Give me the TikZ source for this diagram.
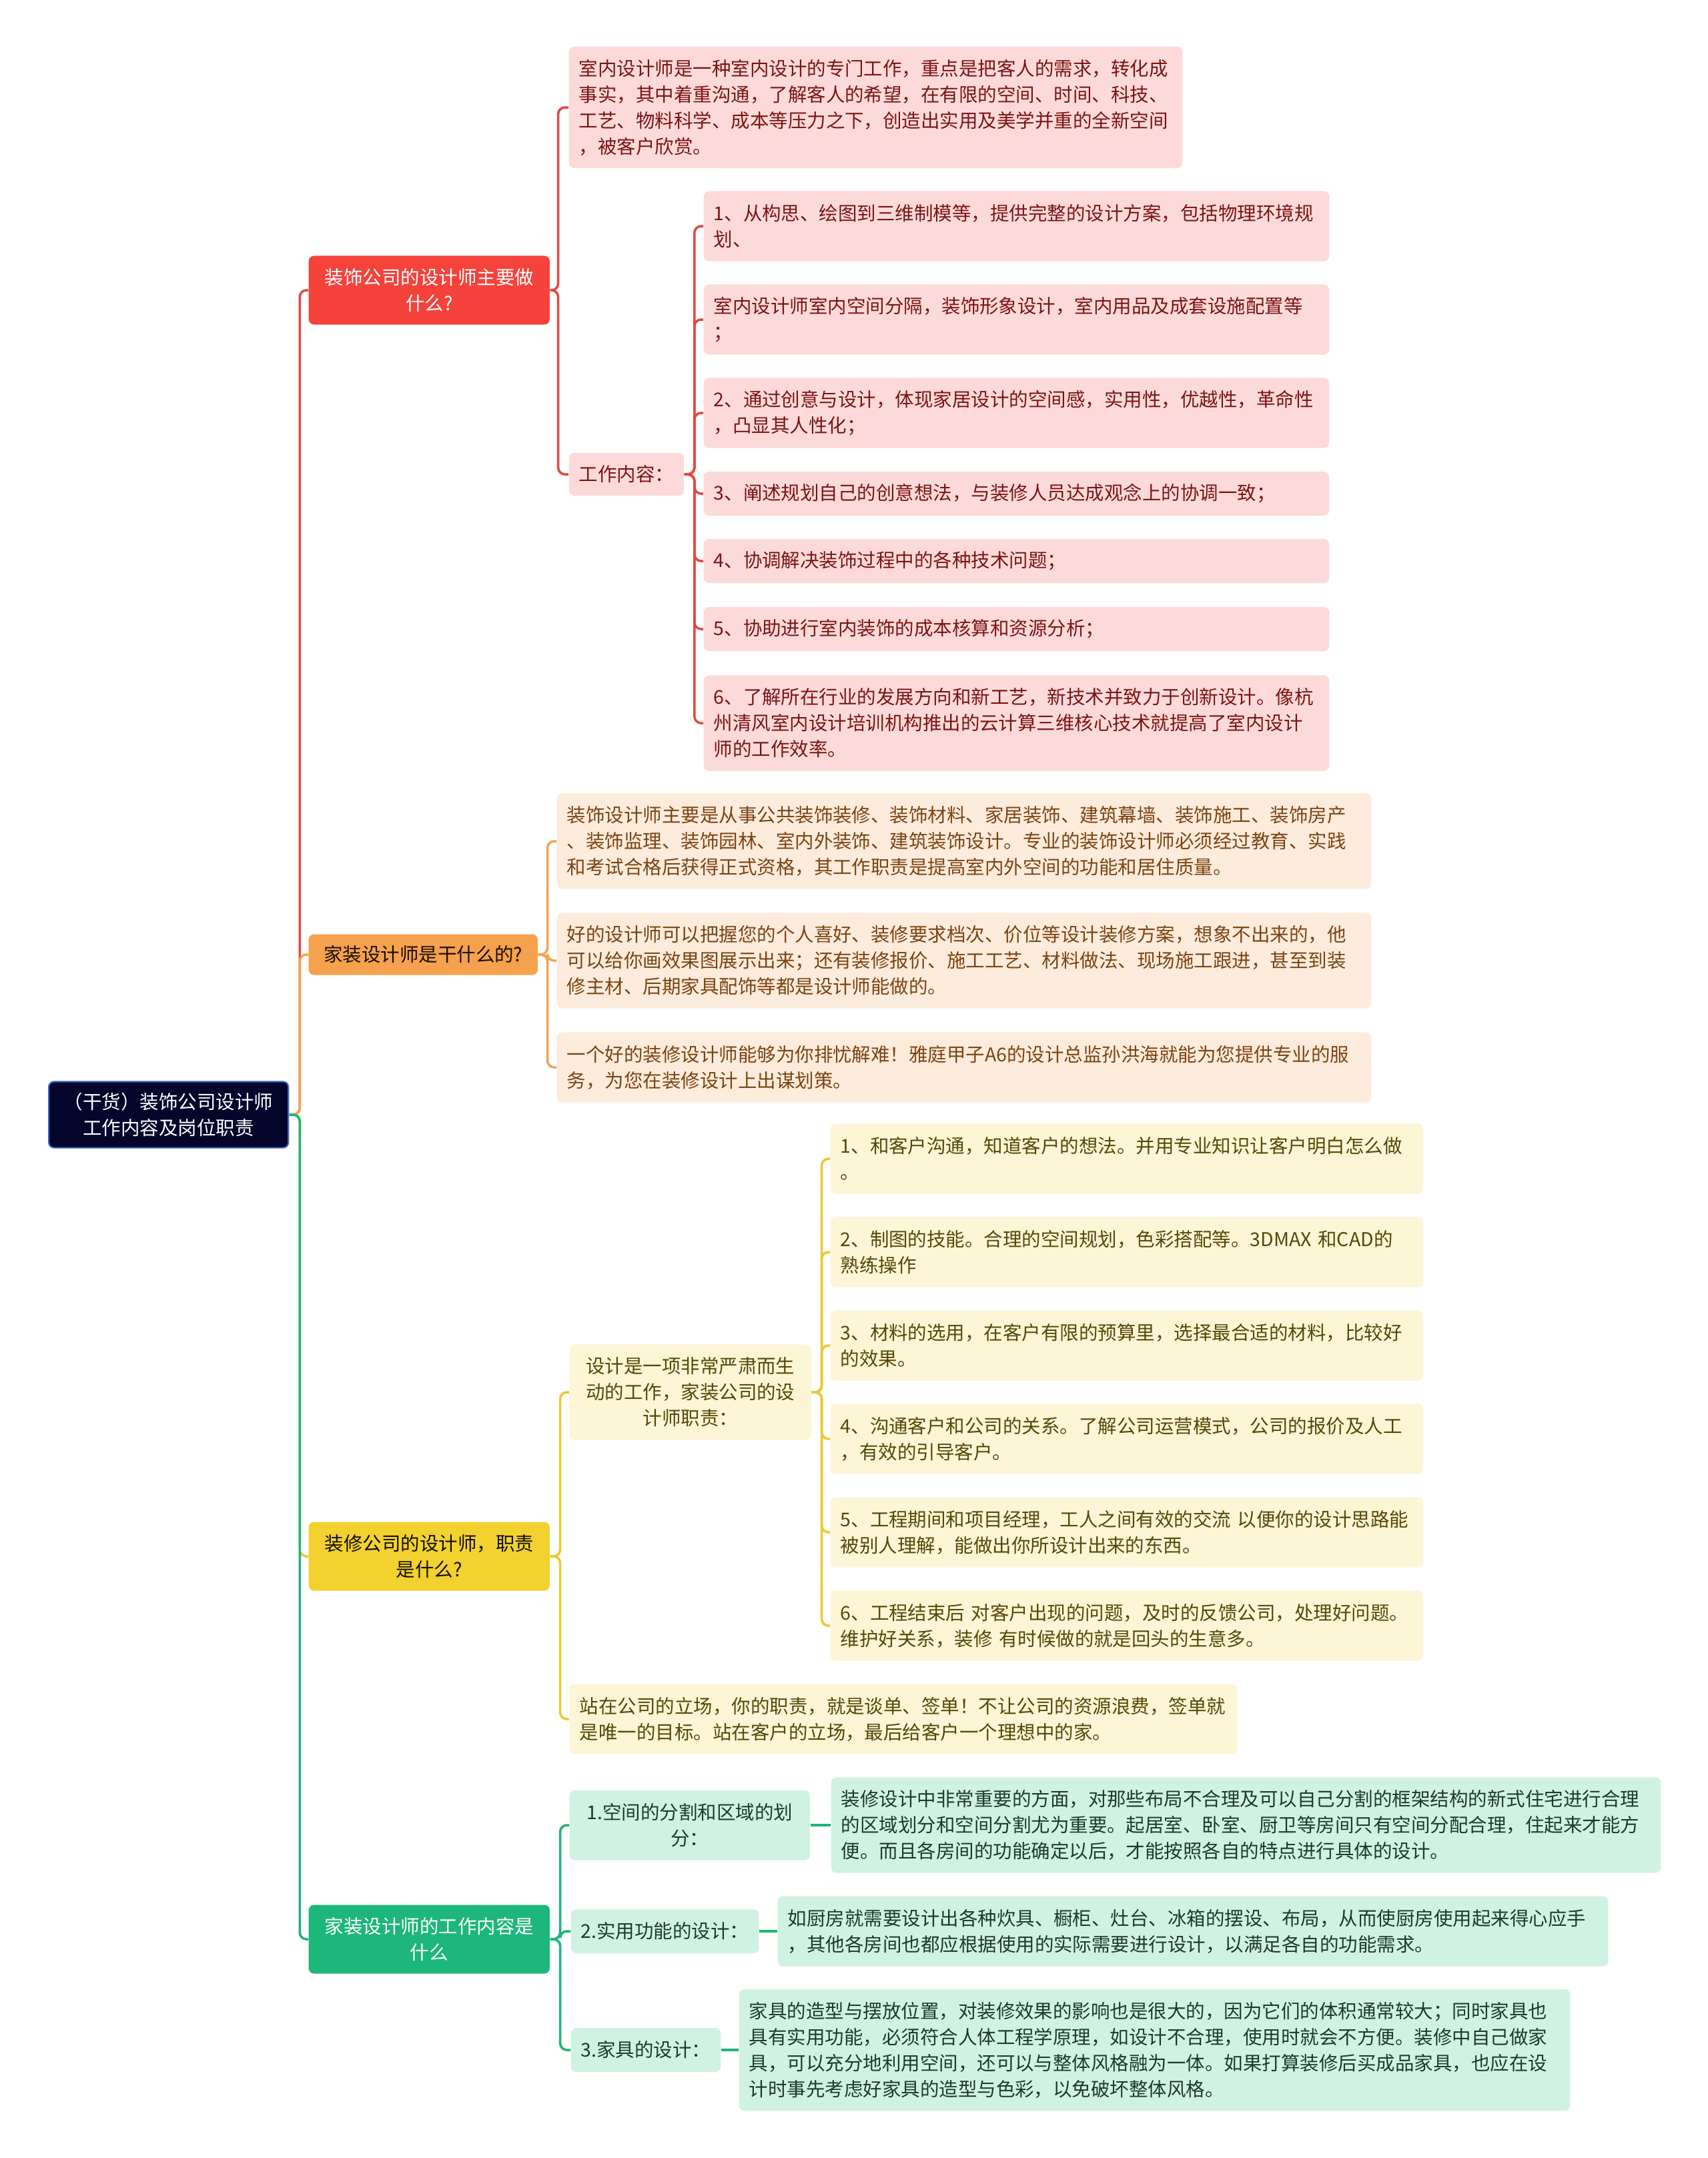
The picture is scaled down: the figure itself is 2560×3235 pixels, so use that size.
\documentclass[tikz,border=0pt]{standalone}
\usepackage{fontspec}
\setmainfont{Noto Sans CJK SC}
\definecolor{rootfill}{HTML}{03052B}
\definecolor{rootedge}{HTML}{3A66C8}
\definecolor{redmain}{HTML}{F5423B}
\definecolor{redpale}{HTML}{FDDADA}
\definecolor{redink}{HTML}{7A1414}
\definecolor{redwire}{HTML}{E4473F}
\definecolor{orgmain}{HTML}{F5A14D}
\definecolor{orgpale}{HTML}{FDEBDB}
\definecolor{orgink}{HTML}{7A4512}
\definecolor{orgwire}{HTML}{F0A452}
\definecolor{yelmain}{HTML}{F3D22F}
\definecolor{yelpale}{HTML}{FCF5D6}
\definecolor{yelink}{HTML}{564808}
\definecolor{yelwire}{HTML}{EBC935}
\definecolor{grnmain}{HTML}{1DB67B}
\definecolor{grnpale}{HTML}{D0F2E3}
\definecolor{grnink}{HTML}{1E3A2C}
\definecolor{grnwire}{HTML}{1DB37A}
\tikzset{box/.style = {shape = rectangle, rounded corners = 0.08cm, inner xsep = 0.15cm, inner ysep = 0pt, anchor = west, font = \fontsize{8.1pt}{11.1pt}\selectfont}}
\tikzset{topic/.style = {box, text width = 3.31cm, align = center, minimum height = 1.03cm}}
\tikzset{one/.style = {minimum height = 0.66cm}}
\tikzset{two/.style = {minimum height = 1.05cm}}
\tikzset{three/.style = {minimum height = 1.43cm}}
\tikzset{four/.style = {minimum height = 1.82cm}}
\tikzset{redkid/.style = {box, fill = redpale, text = redink, align = left}}
\tikzset{orgkid/.style = {box, fill = orgpale, text = orgink, align = left}}
\tikzset{yelkid/.style = {box, fill = yelpale, text = yelink, align = left}}
\tikzset{grnkid/.style = {box, fill = grnpale, text = grnink, align = left}}
\tikzset{wire/.style = {line width = 1pt, rounded corners = 0.1cm}}

\begin{document}
\begin{tikzpicture}[x = 0.01cm, y = -0.01cm]
	\useasboundingbox (0, 0) rectangle (2560, 3235);

	\node[box, fill = rootfill, draw = rootedge, line width = 0.6pt, text = white, text width = 3.29cm, align = center, minimum height = 0.99cm] (root) at (72, 1671) {（干货）装饰公司设计师\\工作内容及岗位职责};

	\node[topic, fill = redmain, text = white] (b1) at (462, 435) {装饰公司的设计师主要做\\什么?};
	\node[topic, fill = orgmain, text = black!80!orgink, text width = 3.13cm, minimum height = 0.61cm] (b2) at (462, 1431) {家装设计师是干什么的?};
	\node[topic, fill = yelmain, text = black!80!yelink] (b3) at (462, 2333) {装修公司的设计师，职责\\是什么?};
	\node[topic, fill = grnmain, text = white] (b4) at (462, 2907) {家装设计师的工作内容是\\什么};

	\node[redkid, four, text width = 8.89cm] (r0) at (852, 161) {室内设计师是一种室内设计的专门工作，重点是把客人的需求，转化成\\事实，其中着重沟通，了解客人的希望，在有限的空间、时间、科技、\\工艺、物料科学、成本等压力之下，创造出实用及美学并重的全新空间\\，被客户欣赏。};
	\node[redkid, one, minimum height = 0.64cm] (r1) at (852, 711) {工作内容：};
	\node[redkid, two, text width = 9.07cm] (w1) at (1054, 339) {1、从构思、绘图到三维制模等，提供完整的设计方案，包括物理环境规\\划、};
	\node[redkid, two, text width = 9.07cm] (w2) at (1054, 479) {室内设计师室内空间分隔，装饰形象设计，室内用品及成套设施配置等\\；};
	\node[redkid, two, text width = 9.07cm] (w3) at (1054, 619) {2、通过创意与设计，体现家居设计的空间感，实用性，优越性，革命性\\，凸显其人性化；};
	\node[redkid, one, text width = 9.07cm] (w4) at (1054, 740) {3、阐述规划自己的创意想法，与装修人员达成观念上的协调一致；};
	\node[redkid, one, text width = 9.07cm] (w5) at (1054, 841) {4、协调解决装饰过程中的各种技术问题；};
	\node[redkid, one, text width = 9.07cm] (w6) at (1054, 943) {5、协助进行室内装饰的成本核算和资源分析；};
	\node[redkid, three, text width = 9.07cm] (w7) at (1054, 1084) {6、了解所在行业的发展方向和新工艺，新技术并致力于创新设计。像杭\\州清风室内设计培训机构推出的云计算三维核心技术就提高了室内设计\\师的工作效率。};

	\node[orgkid, three, text width = 11.9cm] (o1) at (834, 1261) {装饰设计师主要是从事公共装饰装修、装饰材料、家居装饰、建筑幕墙、装饰施工、装饰房产\\、装饰监理、装饰园林、室内外装饰、建筑装饰设计。专业的装饰设计师必须经过教育、实践\\和考试合格后获得正式资格，其工作职责是提高室内外空间的功能和居住质量。};
	\node[orgkid, three, text width = 11.9cm] (o2) at (834, 1440) {好的设计师可以把握您的个人喜好、装修要求档次、价位等设计装修方案，想象不出来的，他\\可以给你画效果图展示出来；还有装修报价、施工工艺、材料做法、现场施工跟进，甚至到装\\修主材、后期家具配饰等都是设计师能做的。};
	\node[orgkid, two, text width = 11.9cm] (o3) at (834, 1600) {一个好的装修设计师能够为你排忧解难！雅庭甲子A6的设计总监孙洪海就能为您提供专业的服\\务，为您在装修设计上出谋划策。};

	\node[yelkid, three, text width = 3.32cm, align = center] (y0) at (853, 2087) {设计是一项非常严肃而生\\动的工作，家装公司的设\\计师职责：};
	\node[yelkid, two, text width = 8.58cm] (d1) at (1244, 1737) {1、和客户沟通，知道客户的想法。并用专业知识让客户明白怎么做\\。};
	\node[yelkid, two, text width = 8.58cm] (d2) at (1244, 1877) {2、制图的技能。合理的空间规划，色彩搭配等。3DMAX~和CAD的\\熟练操作};
	\node[yelkid, two, text width = 8.58cm] (d3) at (1244, 2017) {3、材料的选用，在客户有限的预算里，选择最合适的材料，比较好\\的效果。};
	\node[yelkid, two, text width = 8.58cm] (d4) at (1244, 2157) {4、沟通客户和公司的关系。了解公司运营模式，公司的报价及人工\\，有效的引导客户。};
	\node[yelkid, two, text width = 8.58cm] (d5) at (1244, 2297) {5、工程期间和项目经理，工人之间有效的交流~以便你的设计思路能\\被别人理解，能做出你所设计出来的东西。};
	\node[yelkid, two, text width = 8.58cm] (d6) at (1244, 2437) {6、工程结束后~对客户出现的问题，及时的反馈公司，处理好问题。\\维护好关系，装修~有时候做的就是回头的生意多。};
	\node[yelkid, two, text width = 9.7cm] (y7) at (853, 2577) {站在公司的立场，你的职责，就是谈单、签单！不让公司的资源浪费，签单就\\是唯一的目标。站在客户的立场，最后给客户一个理想中的家。};

	\node[grnkid, two, text width = 3.3cm, align = center] (g1) at (853, 2736) {1.空间的分割和区域的划\\分：};
	\node[grnkid, three, text width = 12.13cm] (g1t) at (1245, 2736) {装修设计中非常重要的方面，对那些布局不合理及可以自己分割的框架结构的新式住宅进行合理\\的区域划分和空间分割尤为重要。起居室、卧室、厨卫等房间只有空间分配合理，住起来才能方\\便。而且各房间的功能确定以后，才能按照各自的特点进行具体的设计。};
	\node[grnkid, one] (g2) at (855, 2895) {2.实用功能的设计：};
	\node[grnkid, two, text width = 12.14cm] (g2t) at (1165, 2895) {如厨房就需要设计出各种炊具、橱柜、灶台、冰箱的摆设、布局，从而使厨房使用起来得心应手\\，其他各房间也都应根据使用的实际需要进行设计，以满足各自的功能需求。};
	\node[grnkid, one] (g3) at (855, 3073) {3.家具的设计：};
	\node[grnkid, four, text width = 12.15cm] (g3t) at (1107, 3073) {家具的造型与摆放位置，对装修效果的影响也是很大的，因为它们的体积通常较大；同时家具也\\具有实用功能，必须符合人体工程学原理，如设计不合理，使用时就会不方便。装修中自己做家\\具，可以充分地利用空间，还可以与整体风格融为一体。如果打算装修后买成品家具，也应在设\\计时事先考虑好家具的造型与色彩，以免破坏整体风格。};

	\draw[wire, redwire] (root.east) -- ++(16, 0) |- (b1.west);
	\draw[wire, orgwire] (root.east) -- ++(16, 0) |- (b2.west);
	\draw[wire, yelwire] (root.east) -- ++(16, 0) |- (b3.west);
	\draw[wire, grnwire] (root.east) -- ++(16, 0) |- (b4.west);

	\draw[wire, redwire] (b1.east) -- ++(12, 0) |- (r0.west);
	\draw[wire, redwire] (b1.east) -- ++(12, 0) |- (r1.west);
	\foreach \k in {w1, w2, w3, w4, w5, w6, w7}
		\draw[wire, redwire] (r1.east) -- ++(15, 0) |- (\k.west);

	\foreach \k in {o1, o2, o3}
		\draw[wire, orgwire] (b2.east) -- ++(14, 0) |- (\k.west);

	\draw[wire, yelwire] (b3.east) -- ++(15, 0) |- (y0.west);
	\draw[wire, yelwire] (b3.east) -- ++(15, 0) |- (y7.west);
	\foreach \k in {d1, d2, d3, d4, d5, d6}
		\draw[wire, yelwire] (y0.east) -- ++(15, 0) |- (\k.west);

	\foreach \k in {g1, g2, g3}
		\draw[wire, grnwire] (b4.east) -- ++(15, 0) |- (\k.west);
	\draw[wire, grnwire] (g1) -- (g1t);
	\draw[wire, grnwire] (g2) -- (g2t);
	\draw[wire, grnwire] (g3) -- (g3t);
\end{tikzpicture}
\end{document}
